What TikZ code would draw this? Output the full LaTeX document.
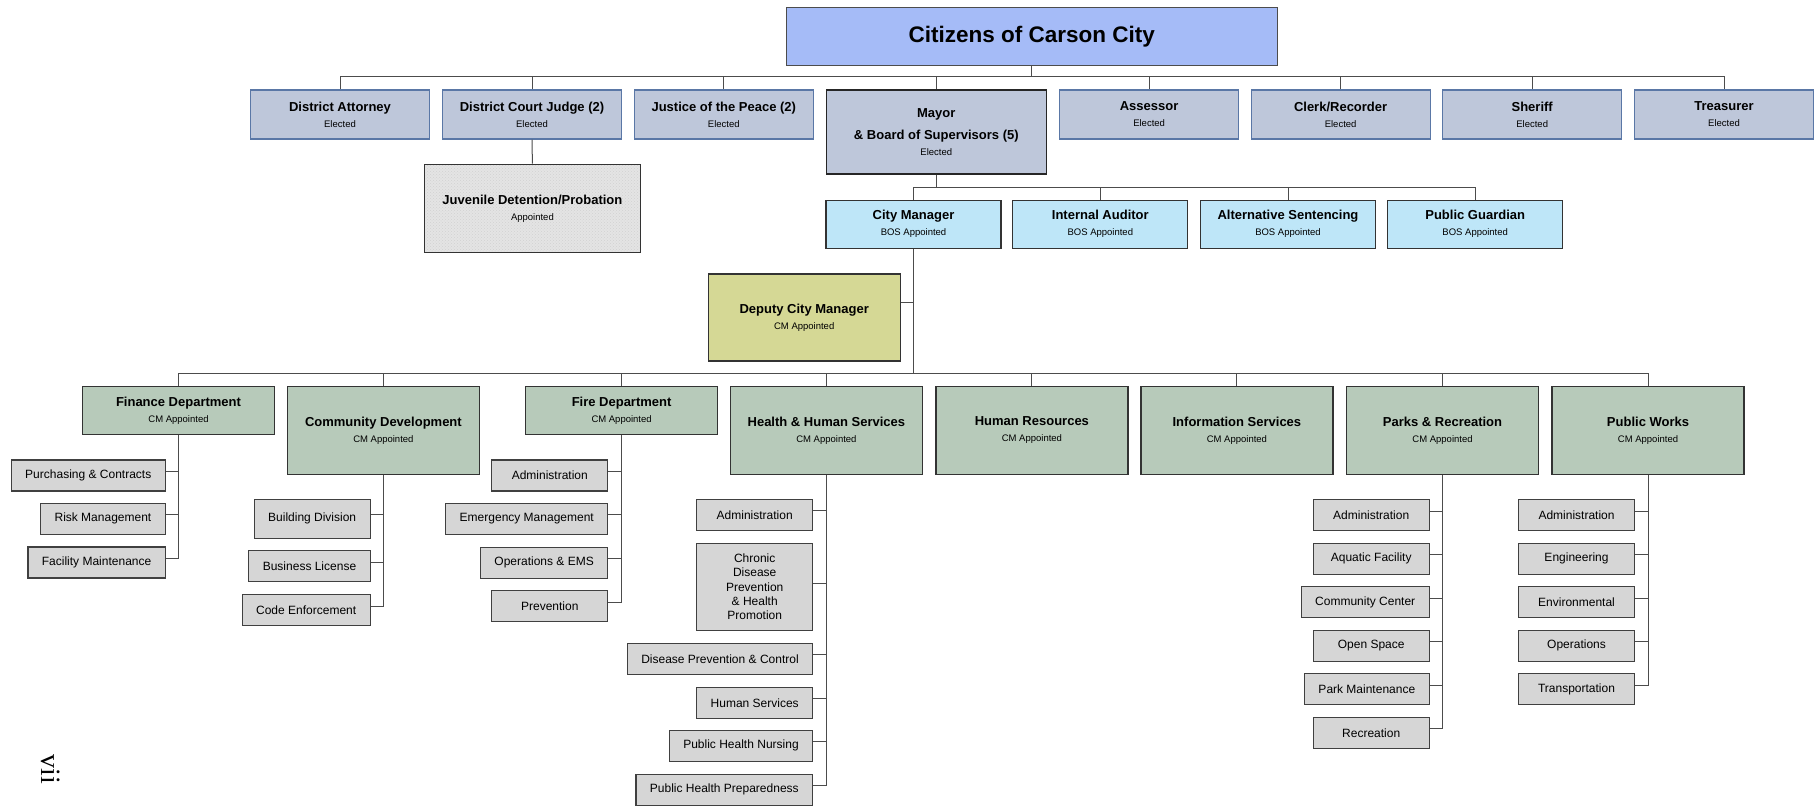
\documentclass[tikz,border=0pt]{standalone}
\usepackage{fontspec}
\setmainfont{Liberation Sans}
\newfontfamily\pagenumfont{Liberation Serif}
\usetikzlibrary{patterns}

\definecolor{citizenblue}{HTML}{A5BBF7}
\definecolor{electedgrey}{HTML}{BEC7DA}
\definecolor{electededge}{HTML}{5A77A6}
\definecolor{bosblue}{HTML}{BEE6F8}
\definecolor{deputyolive}{HTML}{D5D895}
\definecolor{deptgreen}{HTML}{B7CABA}
\definecolor{unitgrey}{HTML}{D6D6D6}
\definecolor{juvgrey}{HTML}{E4E4E4}

\newcommand{\rolenote}[1]{\\{\fontsize{9.5}{16}\selectfont\mdseries #1}}

\begin{document}
\begin{tikzpicture}[x=1pt,y=-1pt]
	\tikzset{box/.style = {draw=black!80, line width=1.2pt, inner sep=0pt, align=center,
			font=\fontsize{13}{16}\selectfont\bfseries}}
	\tikzset{elected/.style = {box, fill=electedgrey, draw=electededge, minimum width=179pt, minimum height=49pt}}
	\tikzset{bos/.style = {box, fill=bosblue, minimum width=175pt, minimum height=48pt}}
	\tikzset{dept/.style = {box, fill=deptgreen, minimum width=192pt, minimum height=88pt}}
	\tikzset{shortdept/.style = {dept, minimum height=48pt}}
	\tikzset{unit/.style = {draw=black!75, line width=1.2pt, fill=unitgrey, anchor=east, align=center,
			inner xsep=14pt, inner ysep=0pt, minimum width=116pt, minimum height=31pt,
			font=\fontsize{12}{14.3}\selectfont}}
	\tikzset{link/.style = {black!70, line width=1pt}}
	\tikzset{tree/.style = {link, to path={(\tikztostart) |- ([yshift=12.5pt]\tikztotarget.north) -- (\tikztotarget.north)}}}
	\tikzset{side/.style = {link, to path={(\tikztostart) |- ([yshift=4pt]\tikztotarget.east)}}}

	\useasboundingbox (0,0) rectangle (1817,806);

	% citizens and elected offices
	\node[box, fill=citizenblue, draw=black!70, minimum width=491pt, minimum height=58pt,
		font=\fontsize{22.5}{27}\selectfont\bfseries] (cit) at (1031.8,36.2) {Citizens of Carson City};

	\node[elected] (da)      at ( 340.0,114.5) {District Attorney\rolenote{Elected}};
	\node[elected] (dcj)     at ( 532.0,114.5) {District Court Judge (2)\rolenote{Elected}};
	\node[elected] (jp)      at ( 723.8,114.5) {Justice of the Peace (2)\rolenote{Elected}};
	\node[elected, draw=black!85, minimum width=220pt, minimum height=84pt]
	               (mayor)   at ( 936.3,132.0) {Mayor\\[5.5pt]\& Board of Supervisors (5)\rolenote{Elected}};
	\node[elected] (asr)     at (1149.1,114.5) {Assessor\rolenote{Elected}};
	\node[elected] (clerk)   at (1340.6,114.5) {Clerk/Recorder\rolenote{Elected}};
	\node[elected] (sheriff) at (1532.2,114.5) {Sheriff\rolenote{Elected}};
	\node[elected] (treas)   at (1724.0,114.5) {Treasurer\rolenote{Elected}};

	\node[box, minimum width=216pt, minimum height=88pt, preaction={fill=juvgrey},
		pattern=crosshatch dots, pattern color=black!18] (juv) at (532.4,208.3) {Juvenile Detention/Probation\rolenote{Appointed}};

	% appointed by the board
	\node[bos] (cm)      at ( 913.5,224.2) {City Manager\rolenote{BOS Appointed}};
	\node[bos] (ia)      at (1100.3,224.2) {Internal Auditor\rolenote{BOS Appointed}};
	\node[bos] (altsent) at (1288.0,224.2) {Alternative Sentencing\rolenote{BOS Appointed}};
	\node[bos] (pg)      at (1475.2,224.2) {Public Guardian\rolenote{BOS Appointed}};

	\node[box, fill=deputyolive, minimum width=192pt, minimum height=87pt] (dcm) at (804.2,317.5) {Deputy City Manager\rolenote{CM Appointed}};

	% departments
	\node[shortdept] (fin)     at ( 178.5,410.5) {Finance Department\rolenote{CM Appointed}};
	\node[dept]      (cdev)    at ( 383.4,430.5) {Community Development\rolenote{CM Appointed}};
	\node[shortdept] (fire)    at ( 621.6,410.5) {Fire Department\rolenote{CM Appointed}};
	\node[dept]      (hhs)     at ( 826.4,430.5) {Health \& Human Services\rolenote{CM Appointed}};
	\node[dept]      (hr)      at (1031.9,430.5) {Human Resources\rolenote{CM Appointed}};
	\node[dept]      (infosvc) at (1236.9,430.5) {Information Services\rolenote{CM Appointed}};
	\node[dept]      (parks)   at (1442.5,430.5) {Parks \& Recreation\rolenote{CM Appointed}};
	\node[dept]      (pw)      at (1648.0,430.5) {Public Works\rolenote{CM Appointed}};

	% divisions
	\node[unit] (purch)  at (165.9,475.5) {Purchasing \& Contracts};
	\node[unit] (risk)   at (165.9,518.8) {Risk Management};
	\node[unit] (facil)  at (165.9,562.5) {Facility Maintenance};

	\node[unit, minimum height=39pt] (bldg) at (370.8,518.8) {Building Division};
	\node[unit] (bizlic) at (370.8,566.0) {Business License};
	\node[unit] (code)   at (370.8,610.0) {Code Enforcement};

	\node[unit] (fadmin) at (608.4,475.5) {Administration};
	\node[unit] (emerg)  at (608.4,518.8) {Emergency Management};
	\node[unit] (ops)    at (608.4,562.8) {Operations \& EMS};
	\node[unit] (prev)   at (608.4,606.0) {Prevention};

	\node[unit] (hadmin)  at (813.3,514.8) {Administration};
	\node[unit, minimum height=87pt] (chronic) at (813.3,587.0) {Chronic\\Disease\\Prevention\\\& Health\\Promotion};
	\node[unit] (dpc)     at (813.3,658.8) {Disease Prevention \& Control};
	\node[unit] (hsvc)    at (813.3,702.7) {Human Services};
	\node[unit] (phn)     at (813.3,745.8) {Public Health Nursing};
	\node[unit] (php)     at (813.3,789.7) {Public Health Preparedness};

	\node[unit] (padmin)    at (1429.8,515.2) {Administration};
	\node[unit] (aquatic)   at (1429.8,558.7) {Aquatic Facility};
	\node[unit] (commctr)   at (1429.8,602.2) {Community Center};
	\node[unit] (openspace) at (1429.8,645.8) {Open Space};
	\node[unit] (parkmaint) at (1429.8,689.2) {Park Maintenance};
	\node[unit] (recr)      at (1429.8,732.8) {Recreation};

	\node[unit] (wadmin) at (1635.1,515.2) {Administration};
	\node[unit] (eng)    at (1635.1,558.7) {Engineering};
	\node[unit] (env)    at (1635.1,602.2) {Environmental};
	\node[unit] (wops)   at (1635.1,645.8) {Operations};
	\node[unit] (transp) at (1635.1,689.2) {Transportation};

	\node[rotate=-90, font=\pagenumfont\fontsize{28}{28}\selectfont] (pagenum) at (50.5,769) {vii};

	\draw[tree] (cit.south) to (da);
	\draw[tree] (cit.south) to (dcj);
	\draw[tree] (cit.south) to (jp);
	\draw[tree] (cit.south) to (mayor);
	\draw[tree] (cit.south) to (asr);
	\draw[tree] (cit.south) to (clerk);
	\draw[tree] (cit.south) to (sheriff);
	\draw[tree] (cit.south) to (treas);
	\draw[link] (dcj.south) -- (juv.north);

	\draw[tree] (mayor.south) to (cm);
	\draw[tree] (mayor.south) to (ia);
	\draw[tree] (mayor.south) to (altsent);
	\draw[tree] (mayor.south) to (pg);

	\draw[link] (cm.south) |- ([yshift=15pt]dcm.east);
	\draw[tree] (cm.south) to (fin);
	\draw[tree] (cm.south) to (cdev);
	\draw[tree] (cm.south) to (fire);
	\draw[tree] (cm.south) to (hhs);
	\draw[tree] (cm.south) to (hr);
	\draw[tree] (cm.south) to (infosvc);
	\draw[tree] (cm.south) to (parks);
	\draw[tree] (cm.south) to (pw);

	\draw[side] (fin.south) to (purch);
	\draw[side] (fin.south) to (risk);
	\draw[side] (fin.south) to (facil);
	\draw[side] (cdev.south) to (bldg);
	\draw[side] (cdev.south) to (bizlic);
	\draw[side] (cdev.south) to (code);
	\draw[side] (fire.south) to (fadmin);
	\draw[side] (fire.south) to (emerg);
	\draw[side] (fire.south) to (ops);
	\draw[side] (fire.south) to (prev);
	\draw[side] (hhs.south) to (hadmin);
	\draw[side] (hhs.south) to (chronic);
	\draw[side] (hhs.south) to (dpc);
	\draw[side] (hhs.south) to (hsvc);
	\draw[side] (hhs.south) to (phn);
	\draw[side] (hhs.south) to (php);
	\draw[side] (parks.south) to (padmin);
	\draw[side] (parks.south) to (aquatic);
	\draw[side] (parks.south) to (commctr);
	\draw[side] (parks.south) to (openspace);
	\draw[side] (parks.south) to (parkmaint);
	\draw[side] (parks.south) to (recr);
	\draw[side] (pw.south) to (wadmin);
	\draw[side] (pw.south) to (eng);
	\draw[side] (pw.south) to (env);
	\draw[side] (pw.south) to (wops);
	\draw[side] (pw.south) to (transp);
\end{tikzpicture}
\end{document}
